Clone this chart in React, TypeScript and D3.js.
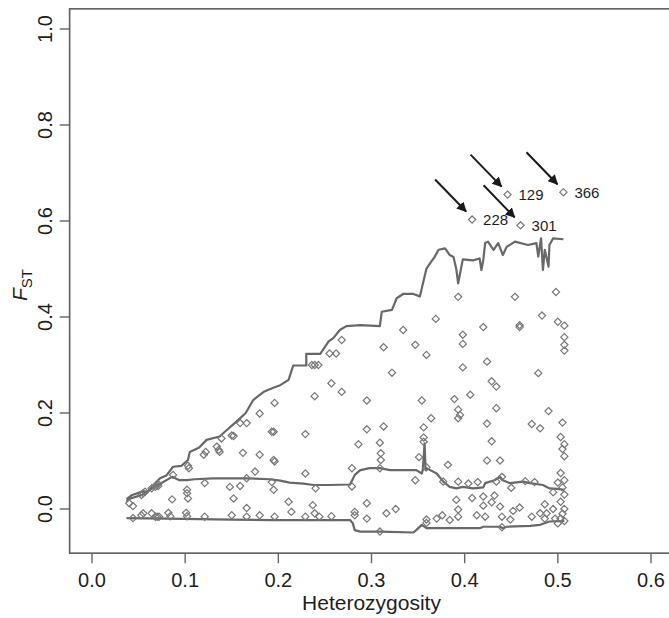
import React from "react";
import * as d3 from "d3";

// ---------- data ----------
const xTicks = [0, 0.1, 0.2, 0.3, 0.4, 0.5, 0.6];
const yTicks = [0, 0.2, 0.4, 0.6, 0.8, 1.0];

// loci: [heterozygosity, Fst]
const loci: [number, number][] = [
  [.040,.012],[.044,.006],[.053,.029],[.055,.033],[.057,.036],[.064,.043],[.068,.046],[.071,.048],[.071,.052],[.086,.020],[.087,.071],[.102,.040],[.102,.033],[.103,.022],[.103,.090],[.104,.085],[.120,.113],[.122,.119],[.134,.130],[.136,.123],[.137,.119],[.139,.147],[.150,.153],[.152,.152],[.162,.117],[.180,.113],[.195,.102],[.196,.099],[.159,.179],[.166,.179],[.180,.199],[.193,.161],[.195,.161],[.196,.221],[.121,.054],[.148,.046],[.159,.048],[.152,.022],[.166,.064],[.175,.078],[.193,.056],[.195,.040],[.166,.002],
  [.044,-.019],[.053,-.013],[.055,-.009],[.064,-.009],[.068,-.016],[.070,-.016],[.072,-.016],[.082,-.008],[.084,-.015],[.101,-.008],[.102,-.015],[.121,-.016],[.150,-.013],[.166,-.016],[.180,-.013],[.196,-.016],
  [.268,.352],[.255,.324],[.262,.324],[.236,.300],[.239,.300],[.243,.300],[.257,.262],[.268,.244],[.239,.235],[.295,.226],[.313,.337],[.322,.284],[.334,.373],[.347,.342],[.359,.321],[.398,.363],[.398,.344],[.398,.295],[.406,.238],[.354,.226],[.389,.229],[.393,.207],[.395,.196],[.393,.189],[.364,.189],[.356,.170],[.313,.172],[.295,.166],[.229,.156],[.286,.135],[.309,.138],[.310,.116],[.310,.102],[.356,.149],[.356,.140],[.351,.108],[.229,.074],[.279,.085],[.309,.085],[.359,.087],[.382,.092],[.347,.060],[.377,.057],[.393,.057],[.240,.043],[.279,.047],[.211,.015],[.237,.008],[.295,.012],[.214,-.006],[.239,-.009],[.244,-.016],[.229,-.016],[.257,-.015],[.282,-.006],[.282,-.013],[.295,-.020],[.316,-.009],[.326,.000],[.391,.019],[.393,-.001],[.393,-.016],[.359,-.022],[.359,-.029],[.370,-.020],[.376,-.013],[.384,-.023],[.309,-.047],
  [.393,.442],[.454,.442],[.369,.396],[.420,.379],[.459,.383],[.459,.379],[.483,.403],[.424,.307],[.479,.283],[.429,.266],[.434,.255],[.434,.210],[.490,.204],[.424,.178],[.472,.177],[.481,.168],[.429,.141],[.424,.101],[.438,.101],[.440,.067],[.404,.053],[.414,.056],[.450,.044],[.465,.058],[.475,.056],[.434,.057],[.408,.023],[.420,.026],[.432,.028],[.420,.007],[.429,.014],[.438,.005],[.452,-.004],[.459,.003],[.472,-.016],[.486,.010],[.488,-.009],[.413,-.013],[.422,-.016],[.440,-.016],[.449,-.022],[.481,-.009],[.486,-.020],[.440,-.038],
  [.498,.452],[.500,.390],[.507,.382],[.507,.358],[.507,.342],[.507,.330],[.505,.180],[.503,.150],[.507,.135],[.505,.125],[.507,.110],[.503,.075],[.507,.060],[.505,.045],[.507,.030],[.503,.015],[.507,.000],[.505,-.010],[.503,-.020],[.507,-.025],[.500,-.030],[.497,-.020],[.495,.000],[.495,.035],[.500,.055],
];

const outlierIds = ["129", "366", "228", "301"];
const outlierHet = [0.446, 0.506, 0.408, 0.460];
const outlierFst = [0.655, 0.660, 0.603, 0.591];

const upperLine: [number, number][] = [
  [.037,.020],[.042,.028],[.053,.036],[.060,.036],[.066,.050],[.073,.064],[.080,.070],[.087,.088],[.096,.090],[.103,.102],[.105,.119],[.115,.128],[.123,.144],[.137,.151],[.145,.165],[.155,.182],[.165,.200],[.173,.227],[.185,.245],[.194,.252],[.202,.258],[.211,.269],[.216,.299],[.230,.299],[.230,.323],[.245,.323],[.254,.349],[.259,.356],[.266,.373],[.273,.381],[.288,.383],[.309,.381],[.311,.411],[.322,.415],[.327,.439],[.334,.448],[.345,.448],[.352,.443],[.359,.501],[.363,.512],[.368,.526],[.372,.540],[.379,.543],[.384,.529],[.388,.525],[.391,.500],[.393,.470],[.395,.490],[.398,.520],[.409,.518],[.416,.522],[.418,.498],[.420,.519],[.422,.554],[.425,.557],[.431,.540],[.436,.554],[.441,.529],[.445,.546],[.454,.557],[.468,.550],[.477,.554],[.479,.526],[.482,.564],[.484,.498],[.486,.540],[.490,.505],[.491,.550],[.495,.564],[.506,.562],
];

const medianLine: [number, number][] = [
  [.037,.015],[.041,.022],[.053,.029],[.069,.048],[.086,.067],[.094,.060],[.102,.060],[.110,.062],[.130,.064],[.166,.064],[.191,.062],[.202,.059],[.212,.055],[.227,.053],[.238,.050],[.255,.050],[.277,.051],[.282,.071],[.288,.081],[.298,.085],[.309,.085],[.320,.081],[.348,.081],[.354,.074],[.355,.081],[.357,.137],[.358,.081],[.359,.085],[.363,.081],[.370,.074],[.377,.057],[.384,.046],[.391,.043],[.398,.046],[.409,.043],[.420,.045],[.422,.054],[.432,.060],[.438,.067],[.441,.060],[.448,.054],[.463,.057],[.470,.054],[.484,.050],[.488,.046],[.491,.043],[.500,.042],[.507,.040],
];

const lowerLine: [number, number][] = [
  [.037,-.019],[.080,-.020],[.150,-.022],[.191,-.023],[.277,-.023],[.280,-.030],[.282,-.044],[.288,-.047],[.309,-.047],[.345,-.049],[.348,-.044],[.354,-.033],[.359,-.040],[.405,-.040],[.416,-.040],[.420,-.037],[.438,-.037],[.441,-.040],[.445,-.037],[.470,-.035],[.481,-.033],[.491,-.026],[.507,-.025],
];

// ---------- layout ----------
const W = 669, H = 618;
const x = d3.scaleLinear().domain([0, 0.6]).range([92, 651]);
const y = d3.scaleLinear().domain([0, 1]).range([509, 29]);
const xLim = [0 - 0.024, 0.6 + 0.024];
const yLim = [-0.05 - 0.042, 1 + 0.042];

const axisCol = "#666666";
const lineCol = "#686868";
const ptCol = "#777777";
const txtCol = "#1e1e1e";
const font = "'Liberation Sans', Arial, Helvetica, sans-serif";

function diamond(cx: number, cy: number, r: number) {
  return `M${cx},${cy - r}L${cx + r},${cy}L${cx},${cy + r}L${cx - r},${cy}Z`;
}

export default function App() {
  const line = d3.line<[number, number]>().x(d => x(d[0])).y(d => y(d[1]));
  const left = x(xLim[0]), right = x(xLim[1]);
  const top = y(yLim[1]), bottom = y(yLim[0]);
  const R = 3.6;
  return (
    <svg width={W} height={H} style={{ position: "absolute", left: 0, top: 0, background: "#fff" }} fontFamily={font}>
      <defs>
        <marker id="ah" viewBox="0 0 10 10" refX="9" refY="5" markerWidth="5" markerHeight="5" orient="auto" markerUnits="strokeWidth">
          <path d="M0,0L10,5L0,10Z" fill="#1a1a1a" />
        </marker>
      </defs>
      {/* frame */}
      <rect x={left} y={top} width={right - left} height={bottom - top} fill="none" stroke={axisCol} strokeWidth={1.7} />
      {/* x ticks */}
      {xTicks.map(t => (
        <g key={"xt" + t}>
          <line x1={x(t)} x2={x(t)} y1={bottom} y2={bottom + 10} stroke={axisCol} strokeWidth={1.4} />
          <text x={x(t)} y={587} textAnchor="middle" fontSize={20} fill={txtCol}>{t.toFixed(1)}</text>
        </g>
      ))}
      {/* y ticks */}
      {yTicks.map(t => (
        <g key={"yt" + t}>
          <line x1={left} x2={left - 10} y1={y(t)} y2={y(t)} stroke={axisCol} strokeWidth={1.4} />
          <text transform={`translate(52,${y(t)}) rotate(-90)`} textAnchor="middle" fontSize={20} fill={txtCol}>{t.toFixed(1)}</text>
        </g>
      ))}
      <text x={(x(0) + x(0.6)) / 2} y={610} textAnchor="middle" fontSize={21} fill={txtCol}>Heterozygosity</text>
      <text transform={`translate(27,${(top + bottom) / 2 + 4}) rotate(-90)`} textAnchor="middle" fontSize={21} fill={txtCol}>
        <tspan fontStyle="italic">F</tspan>
        <tspan fontSize={15} dy={5}>ST</tspan>
      </text>
      {/* envelope lines */}
      {[upperLine, medianLine, lowerLine].map((l, i) => (
        <path key={"l" + i} d={line(l) || ""} fill="none" stroke={lineCol} strokeWidth={2.2} strokeLinejoin="round" />
      ))}
      {/* loci */}
      {loci.map((d, i) => (
        <path key={"p" + i} d={diamond(x(d[0]), y(d[1]), R)} fill="none" stroke={ptCol} strokeWidth={1.2} />
      ))}
      {outlierIds.map((id, i) => {
        const px = x(outlierHet[i]), py = y(outlierFst[i]);
        return (
          <g key={"o" + id}>
            <path d={diamond(px, py, R)} fill="none" stroke={ptCol} strokeWidth={1.2} />
            <line x1={px - 37} y1={py - 40} x2={px - 6} y2={py - 8} stroke="#1a1a1a" strokeWidth={2} markerEnd="url(#ah)" />
            <text x={px + 11} y={py + 5.5} fontSize={15} fill={txtCol}>{id}</text>
          </g>
        );
      })}
    </svg>
  );
}
